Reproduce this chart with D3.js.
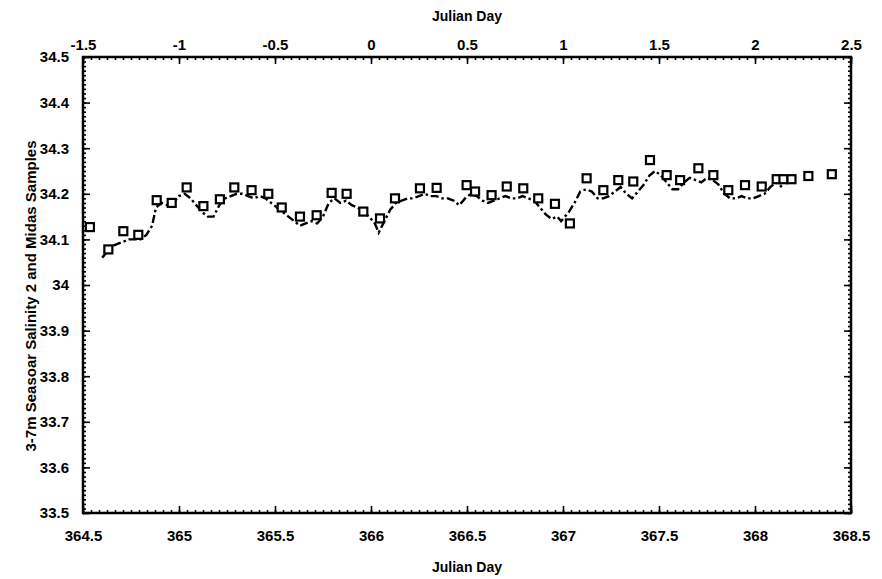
<!DOCTYPE html>
<html>
<head>
<meta charset="utf-8">
<script src="https://cdn.jsdelivr.net/npm/d3@7"></script>
<style>
  body { margin: 0; background: #fff; }
  text { font-family: "Liberation Sans", Arial, sans-serif; font-weight: bold; fill: #000; }
</style>
</head>
<body>
<div id="vis"></div>
<script>
var width = 882;
var height = 579;
var margin = {top: 57, right: 31, bottom: 66, left: 83};

// tick labels
var bottomTicks = [364.5, 365, 365.5, 366, 366.5, 367, 367.5, 368, 368.5];
var topTicks = [-1.5, -1, -0.5, 0, 0.5, 1, 1.5, 2, 2.5];
var yTicks = [33.5, 33.6, 33.7, 33.8, 33.9, 34, 34.1, 34.2, 34.3, 34.4, 34.5];

// Midas samples (squares)
var midasDay = [364.536, 364.632, 364.71, 364.788, 364.884, 364.962, 365.04, 365.127, 365.213,
  365.288, 365.378, 365.465, 365.535, 365.63, 365.717, 365.795, 365.873, 365.96, 366.047,
  366.125, 366.255, 366.342, 366.498, 366.542, 366.628, 366.707, 366.793, 366.871, 366.958,
  367.036, 367.123, 367.21, 367.288, 367.366, 367.453, 367.54, 367.61, 367.705, 367.783,
  367.861, 367.948, 368.035, 368.113, 368.148, 368.19, 368.278, 368.4];
var midasSal = [34.127, 34.078, 34.118, 34.11, 34.186, 34.18, 34.214, 34.173, 34.188,
  34.214, 34.208, 34.2, 34.17, 34.15, 34.153, 34.202, 34.2, 34.161, 34.146,
  34.19, 34.212, 34.213, 34.219, 34.205, 34.197, 34.216, 34.212, 34.19, 34.178,
  34.135, 34.234, 34.208, 34.23, 34.227, 34.274, 34.241, 34.23, 34.256, 34.241,
  34.208, 34.219, 34.216, 34.232, 34.232, 34.232, 34.239, 34.243];

// Seasoar 3-7m salinity (dash-dot line)
var seasoarDay = [364.60, 364.62, 364.65, 364.68, 364.71, 364.74, 364.77, 364.80, 364.83, 364.86,
  364.88, 364.91, 364.94, 364.97, 365.00, 365.03, 365.06, 365.09, 365.12, 365.15,
  365.18, 365.21, 365.24, 365.27, 365.30, 365.33, 365.36, 365.39, 365.42, 365.45,
  365.48, 365.51, 365.54, 365.57, 365.60, 365.63, 365.66, 365.69, 365.72, 365.75,
  365.78, 365.81, 365.84, 365.87, 365.90, 365.93, 365.96, 365.99, 366.02, 366.04,
  366.07, 366.10, 366.13, 366.16, 366.19, 366.22, 366.25, 366.28, 366.31, 366.34,
  366.37, 366.40, 366.43, 366.46, 366.49, 366.52, 366.55, 366.58, 366.61, 366.64,
  366.67, 366.70, 366.73, 366.76, 366.79, 366.82, 366.85, 366.88, 366.91, 366.94,
  366.97, 366.99, 367.03, 367.06, 367.09, 367.12, 367.15, 367.18, 367.21, 367.24,
  367.27, 367.30, 367.33, 367.36, 367.39, 367.42, 367.45, 367.48, 367.51, 367.54,
  367.57, 367.60, 367.63, 367.66, 367.69, 367.72, 367.75, 367.78, 367.81, 367.84,
  367.87, 367.90, 367.93, 367.96, 367.99, 368.02, 368.05, 368.08, 368.11, 368.14];
var seasoarSal = [34.06, 34.07, 34.085, 34.09, 34.095, 34.1, 34.1, 34.1, 34.11, 34.13,
  34.17, 34.18, 34.175, 34.18, 34.195, 34.2, 34.19, 34.175, 34.16, 34.15,
  34.15, 34.175, 34.19, 34.195, 34.2, 34.2, 34.195, 34.19, 34.195, 34.19,
  34.18, 34.17, 34.16, 34.15, 34.14, 34.13, 34.135, 34.14, 34.135, 34.15,
  34.18, 34.19, 34.18, 34.185, 34.175, 34.17, 34.16, 34.15, 34.135, 34.115,
  34.14, 34.165, 34.18, 34.185, 34.19, 34.19, 34.195, 34.2, 34.195, 34.195,
  34.19, 34.19, 34.185, 34.175, 34.19, 34.2, 34.195, 34.185, 34.18, 34.185,
  34.19, 34.195, 34.19, 34.19, 34.195, 34.19, 34.185, 34.17, 34.155, 34.145,
  34.15, 34.14, 34.16, 34.18, 34.205, 34.21, 34.205, 34.19, 34.19, 34.195,
  34.205, 34.215, 34.2, 34.19, 34.205, 34.22, 34.24, 34.25, 34.24, 34.225,
  34.21, 34.21, 34.225, 34.235, 34.23, 34.225, 34.235, 34.23, 34.22, 34.2,
  34.19, 34.19, 34.195, 34.19, 34.19, 34.195, 34.2, 34.215, 34.225, 34.215];

var x_scale = d3.scaleLinear().domain([364.5, 368.5]).range([margin.left, width - margin.right]);
var x_top = d3.scaleLinear().domain([-1.5, 2.5]).range([margin.left, width - margin.right]);
var y_scale = d3.scaleLinear().domain([33.5, 34.5]).range([height - margin.bottom, margin.top]);

var svg = d3.select("#vis").append("svg")
  .attr("width", width)
  .attr("height", height);

var bottom = height - margin.bottom;
var right = width - margin.right;

// minor tick values (hourly on x, 0.01 on y)
var xMinor = d3.range(0, 97).map(i => 364.5 + i / 24);
var yMinor = d3.range(0, 101).map(i => 33.5 + i / 100);

// plain hyphen, as in the original plot
var plain = d => String(d);

function styleAxis(g){
  g.select(".domain").remove();
  g.selectAll("line").attr("stroke", "#000").attr("stroke-width", 1.6);
  g.selectAll("text").style("font-size", "15px").attr("fill", "#000");
}

// bottom axis
svg.append("g").attr("transform", "translate(0," + bottom + ")")
  .call(d3.axisBottom(x_scale).tickValues(xMinor).tickSize(-3).tickFormat(""))
  .call(styleAxis);
svg.append("g").attr("transform", "translate(0," + bottom + ")")
  .call(d3.axisBottom(x_scale).tickValues(bottomTicks).tickSize(-7).tickPadding(17).tickFormat(plain))
  .call(styleAxis);

// top axis
svg.append("g").attr("transform", "translate(0," + margin.top + ")")
  .call(d3.axisTop(x_top).tickValues(xMinor.map(d => d - 366)).tickSize(-3).tickFormat(""))
  .call(styleAxis);
svg.append("g").attr("transform", "translate(0," + margin.top + ")")
  .call(d3.axisTop(x_top).tickValues(topTicks).tickSize(-7).tickPadding(7).tickFormat(plain))
  .call(styleAxis);

// left axis
svg.append("g").attr("transform", "translate(" + margin.left + ",0)")
  .call(d3.axisLeft(y_scale).tickValues(yMinor).tickSize(-3).tickFormat(""))
  .call(styleAxis);
svg.append("g").attr("transform", "translate(" + margin.left + ",0)")
  .call(d3.axisLeft(y_scale).tickValues(yTicks).tickSize(-7).tickPadding(14).tickFormat(plain))
  .call(styleAxis);

// right axis
svg.append("g").attr("transform", "translate(" + right + ",0)")
  .call(d3.axisRight(y_scale).tickValues(yMinor).tickSize(-3).tickFormat(""))
  .call(styleAxis);
svg.append("g").attr("transform", "translate(" + right + ",0)")
  .call(d3.axisRight(y_scale).tickValues(yTicks).tickSize(-7).tickFormat(""))
  .call(styleAxis);

// frame
svg.append("rect")
  .attr("x", margin.left).attr("y", margin.top)
  .attr("width", right - margin.left).attr("height", bottom - margin.top)
  .attr("fill", "none").attr("stroke", "#000").attr("stroke-width", 2.5);

// seasoar line
var seasoar = seasoarDay.map((d, i) => [d, seasoarSal[i]]);
svg.append("path")
  .datum(seasoar)
  .attr("fill", "none")
  .attr("stroke", "#000")
  .attr("stroke-width", 2.4)
  .attr("stroke-dasharray", "8,3,2.5,3")
  .attr("d", d3.line().x(d => x_scale(d[0])).y(d => y_scale(d[1])));

// midas squares
var midas = midasDay.map((d, i) => [d, midasSal[i]]);
svg.selectAll(".midas")
  .data(midas)
  .enter().append("rect")
  .attr("class", "midas")
  .attr("x", d => x_scale(d[0]) - 4)
  .attr("y", d => y_scale(d[1]) - 4)
  .attr("width", 8)
  .attr("height", 8)
  .attr("fill", "#fff")
  .attr("stroke", "#000")
  .attr("stroke-width", 2.2);

// titles
svg.append("text")
  .attr("x", (margin.left + right) / 2).attr("y", 21)
  .attr("text-anchor", "middle").style("font-size", "14px")
  .text("Julian Day");
svg.append("text")
  .attr("x", (margin.left + right) / 2).attr("y", 572)
  .attr("text-anchor", "middle").style("font-size", "14px")
  .text("Julian Day");
svg.append("text")
  .attr("transform", "translate(36," + 296 + ") rotate(-90)")
  .attr("text-anchor", "middle").style("font-size", "15px")
  .text("3-7m Seasoar Salinity 2 and Midas Samples");
</script>
</body>
</html>
